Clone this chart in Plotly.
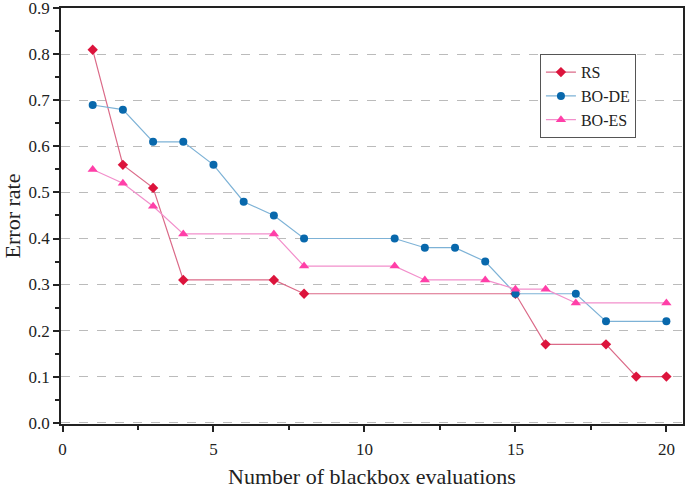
import plotly.graph_objects as go

rs_x = [1, 2, 3, 4, 7, 8, 15, 16, 18, 19, 20]
rs_y = [0.81, 0.56, 0.51, 0.31, 0.31, 0.28, 0.28, 0.17, 0.17, 0.10, 0.10]
de_x = [1, 2, 3, 4, 5, 6, 7, 8, 11, 12, 13, 14, 15, 17, 18, 20]
de_y = [0.69, 0.68, 0.61, 0.61, 0.56, 0.48, 0.45, 0.40, 0.40, 0.38, 0.38, 0.35, 0.28, 0.28, 0.22, 0.22]
es_x = [1, 2, 3, 4, 7, 8, 11, 12, 14, 15, 16, 17, 20]
es_y = [0.55, 0.52, 0.47, 0.41, 0.41, 0.34, 0.34, 0.31, 0.31, 0.29, 0.29, 0.26, 0.26]

x_ticks = [0, 5, 10, 15, 20]
y_ticks = [0.0, 0.1, 0.2, 0.3, 0.4, 0.5, 0.6, 0.7, 0.8, 0.9]

fig = go.Figure()
fig.add_trace(go.Scatter(x=rs_x, y=rs_y, name="RS", mode="lines+markers",
                         line=dict(color="#DB6A88", width=1.2),
                         marker=dict(symbol="diamond", size=8, color="#DC143C")))
fig.add_trace(go.Scatter(x=de_x, y=de_y, name="BO-DE", mode="lines+markers",
                         line=dict(color="#7DB2D6", width=1.2),
                         marker=dict(symbol="circle", size=8, color="#0868AC")))
fig.add_trace(go.Scatter(x=es_x, y=es_y, name="BO-ES", mode="lines+markers",
                         line=dict(color="#F28FCB", width=1.2),
                         marker=dict(symbol="triangle-up", size=9, color="#FF3FA8")))

font = "Liberation Serif"
fig.update_layout(
    width=685, height=489,
    margin=dict(l=61, r=2, t=8, b=65, autoexpand=False),
    paper_bgcolor="white", plot_bgcolor="white",
    font=dict(family=font, size=16, color="#222"),
    showlegend=True,
    legend=dict(x=0.770, y=0.889, xanchor="left", yanchor="top",
                bgcolor="white", bordercolor="#555", borderwidth=1,
                font=dict(size=16, family=font), tracegroupgap=0,
                itemwidth=30),
    xaxis=dict(range=[-0.05, 20.55], tickvals=x_ticks, ticks="outside",
               ticklen=6, tickwidth=1.5, tickcolor="#222", automargin=False,
               ticklabelstandoff=3,
               showline=True, linecolor="#222", linewidth=1.5, mirror=True,
               showgrid=False, zeroline=False,
               minor=dict(dtick=2.5, tick0=0, ticks="outside", ticklen=4, tickcolor="#222", showgrid=False),
               title=dict(text="Number of blackbox evaluations", font=dict(size=22, family=font), standoff=17),
               tickfont=dict(size=17, family=font)),
    yaxis=dict(range=[-0.003, 0.9008], tickvals=y_ticks, tickformat=".1f", ticks="outside",
               ticklen=6, tickwidth=1.5, tickcolor="#222", automargin=False,
               ticklabeloverflow="allow",
               showline=True, linecolor="#222", linewidth=1.5, mirror=True,
               showgrid=True, gridcolor="#BBBBBB", griddash="dash", gridwidth=1,
               zeroline=False,
               minor=dict(dtick=0.05, tick0=0, ticks="outside", ticklen=4, tickcolor="#222", showgrid=False),
               title=dict(text="Error rate", font=dict(size=22, family=font), standoff=6),
               tickfont=dict(size=17, family=font)),
)
fig.write_html("out.html", config={"displayModeBar": False},
               post_script="document.body.style.margin='0';document.body.style.padding='0';")
